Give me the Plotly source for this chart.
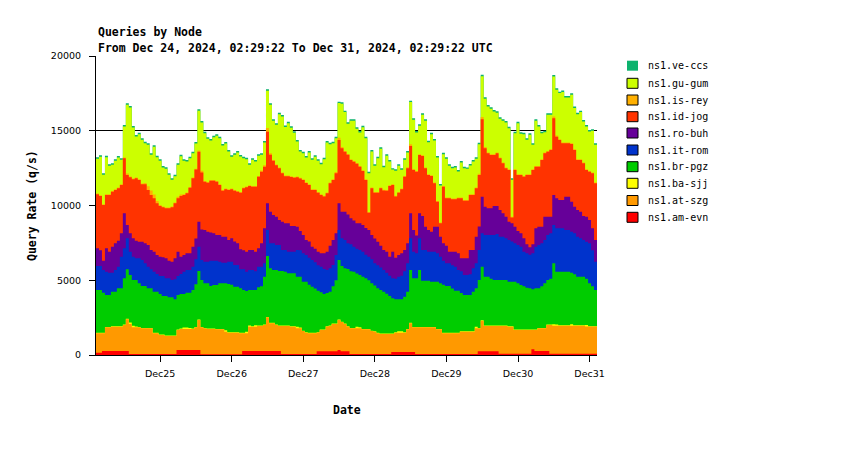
import plotly.graph_objects as go
import pandas as pd

# ---------------- data (hourly bins) ----------------
start = "2024-12-24 02:29:22"
end = "2024-12-31 02:29:22"
tick_days = ["2024-12-25", "2024-12-26", "2024-12-27", "2024-12-28",
             "2024-12-29", "2024-12-30", "2024-12-31"]
y_ticks = [0, 5000, 10000, 15000, 20000]

series_names = ["ns1.ve-ccs", "ns1.gu-gum", "ns1.is-rey", "ns1.id-jog", "ns1.ro-buh",
                "ns1.it-rom", "ns1.br-pgz", "ns1.ba-sjj", "ns1.at-szg", "ns1.am-evn"]

# stacked level (top edge) of whole stack, i.e. top of ns1.ve-ccs
top_total = [
    13224, 13358, 12150, 13335, 12756, 12822, 13090, 13313, 13157, 15387, 16837, 16658,
    15320, 14718, 14874, 14495, 14272, 14160, 13492, 14027, 13335, 13090, 12644, 12555,
    12153, 11819, 12064, 12822, 13400, 13090, 13046, 13268, 13603, 14250, 16435, 15654,
    14940, 14562, 14450, 14673, 14762, 14606, 14117, 14250, 13714, 13358, 13492, 13648,
    13380, 13268, 13201, 12822, 13157, 13046, 13425, 13492, 14317, 17773, 16836, 15766,
    15498, 16212, 16056, 15350, 15610, 15300, 14963, 14384, 13714, 13603, 13313, 13648,
    13157, 13358, 13090, 12867, 13201, 14317, 14205, 14272, 14606, 16948, 16903, 16346,
    15565, 15766, 15766, 15231, 14985, 15342, 14606, 12265, 13714, 12756, 13268, 13893,
    12666, 13425, 13046, 12500, 12420, 12756, 12488, 13157, 13648, 17015, 15833, 14985,
    15431, 16167, 15766, 14339, 14874, 14450, 13313, 11440, 13536, 13224, 12756, 12600,
    12644, 12376, 12978, 12600, 12550, 12778, 13046, 13224, 14205, 18740, 17238, 16725,
    16569, 16390, 16300, 15900, 15766, 15654, 15275, 11819, 14941, 15610, 14900, 14874,
    14495, 14830, 14160, 15766, 15387, 14941, 15008, 16168, 16168, 18732, 17840, 17617,
    17684, 17327, 17327, 17506, 16614, 16212, 16346, 15721, 15387, 15052, 15097, 14160,
]

# stacked level: top of ns1.id-jog
top_id_jog = [
    10749, 10637, 10035, 10704, 10704, 10927, 11038, 11150, 11373, 13157, 12042, 11886,
    11752, 11819, 11708, 11418, 11418, 11038, 10704, 10481, 10147, 9968, 9879, 9812,
    9812, 9879, 10147, 10481, 10637, 10704, 10816, 11195, 11819, 12400, 13600, 12200,
    11596, 11529, 11663, 11663, 11596, 11373, 10994, 11083, 11038, 11083, 10994, 10927,
    10860, 11150, 11217, 11306, 11262, 11262, 11931, 12265, 12600, 14941, 13400, 13000,
    12700, 12500, 12150, 11950, 11950, 11900, 11850, 11886, 11800, 11708, 11500, 11373,
    11038, 11038, 10860, 10704, 10600, 10816, 11485, 11708, 12154, 14384, 13826, 13603,
    13400, 13045, 12934, 12800, 12600, 12300, 11708, 9522, 11150, 10860, 10860, 11150,
    11000, 10994, 11300, 11373, 10600, 10860, 11083, 11931, 12500, 13982, 12377, 12265,
    13380, 13313, 12488, 12042, 11975, 11485, 10258, 8809, 11262, 10481, 10481, 10414,
    10414, 10481, 10481, 10325, 10325, 10704, 10704, 11150, 12042, 15766, 13826, 13491,
    13380, 13380, 13491, 13157, 12822, 12488, 12377, 9200, 12377, 12042, 12042, 11931,
    12042, 12042, 12377, 12600, 12600, 13045, 13491, 13600, 13715, 15833, 14607, 14384,
    14161, 14161, 14161, 14116, 13715, 13045, 13045, 12822, 12378, 12265, 12154, 11485,
]

# stacked level: top of ns1.ro-buh
top_ro_buh = [
    7136, 7000, 6311, 7136, 6913, 7248, 7470, 7649, 8140, 9478, 8697, 8140,
    7805, 7649, 7582, 7582, 7470, 7359, 7024, 6913, 6690, 6578, 6534, 6467,
    6311, 6244, 6467, 6913, 6578, 6690, 6801, 6801, 7248, 7800, 8920, 8400,
    8363, 8251, 8200, 8140, 8028, 8028, 7917, 7917, 7694, 7805, 7600, 7470,
    7069, 7000, 6913, 7024, 7024, 6913, 7136, 7470, 8474, 10148, 9590, 9366,
    9255, 9032, 8920, 8809, 8809, 8630, 8630, 8586, 8300, 8028, 7694, 7600,
    7247, 7100, 6913, 6802, 6802, 6913, 7300, 7700, 8140, 10148, 9589, 9589,
    9400, 9143, 9000, 8809, 8809, 8697, 8500, 8363, 8028, 7800, 7582, 7300,
    7024, 6900, 6579, 6913, 6500, 6690, 6800, 7024, 7470, 9478, 8363, 8000,
    9478, 9300, 8586, 8363, 8251, 8586, 8586, 7917, 7470, 7300, 6913, 6913,
    6913, 6800, 6467, 6467, 6467, 7024, 7024, 7917, 8600, 10593, 9924, 9812,
    9812, 9968, 9968, 9700, 9478, 9255, 8920, 8809, 8586, 8300, 8140, 7805,
    7400, 7200, 7400, 8474, 8586, 8586, 9255, 9255, 9255, 10704, 10481, 10370,
    10370, 10593, 10593, 10258, 9924, 9700, 9589, 9300, 9255, 9032, 8474, 7694,
]

# stacked level: top of ns1.it-rom
top_it_rom = [
    5954, 5954, 5687, 5575, 5508, 5508, 5687, 5910, 6579, 7136, 7805, 6913,
    6579, 6467, 6467, 6356, 6133, 5910, 5731, 5575, 5419, 5285, 5285, 5129,
    5129, 5018, 5062, 5285, 5419, 5575, 5687, 5687, 5910, 6400, 7248, 6356,
    6244, 6244, 6311, 6311, 6311, 6244, 6177, 6177, 6244, 6244, 6021, 6021,
    5731, 5731, 5575, 5687, 5687, 5600, 5910, 5910, 6133, 8363, 7470, 7470,
    7359, 7359, 7024, 7024, 6913, 6913, 6913, 7024, 7000, 6800, 6690, 6500,
    6356, 6200, 6000, 5910, 5750, 5687, 5800, 6021, 6690, 8363, 7805, 7700,
    7470, 7400, 7247, 7100, 7024, 6900, 6700, 6579, 6400, 6133, 6000, 5850,
    5687, 5500, 5300, 5129, 5100, 5241, 5300, 5600, 6133, 7805, 6913, 6800,
    7805, 7024, 7024, 6913, 6913, 6913, 6800, 6579, 6300, 6133, 6133, 6000,
    5900, 5687, 5600, 5352, 5352, 5400, 5800, 6133, 7024, 8140, 8028, 8028,
    8028, 8028, 8100, 7917, 7917, 7805, 7694, 7600, 7470, 7359, 7248, 6900,
    6800, 6700, 6800, 7248, 7359, 7470, 7694, 8028, 8140, 8697, 8474, 8474,
    8474, 8363, 8363, 8251, 8140, 7917, 7805, 7694, 7582, 7470, 7000, 6244,
]

# stacked level: top of ns1.br-pgz
top_br_pgz = [
    4349, 4349, 4170, 4014, 4014, 4237, 4237, 4460, 4460, 5129, 5731, 5352,
    5018, 5018, 4795, 4616, 4616, 4460, 4460, 4237, 4237, 4081, 3947, 3947,
    3858, 3858, 3724, 4014, 4081, 4081, 4170, 4170, 4349, 4728, 5620, 5018,
    4795, 4795, 4616, 4683, 4683, 4795, 4795, 4795, 4750, 4700, 4572, 4572,
    4460, 4350, 4282, 4349, 4349, 4349, 4527, 4600, 5241, 6623, 5798, 5687,
    5687, 5620, 5620, 5575, 5464, 5464, 5464, 5241, 5241, 4906, 4906, 4700,
    4572, 4450, 4304, 4200, 4081, 4150, 4237, 4600, 5000, 6356, 5954, 5798,
    5750, 5600, 5575, 5450, 5352, 5241, 5129, 5000, 4795, 4650, 4460, 4350,
    4237, 4100, 3950, 3791, 3724, 3724, 3724, 3902, 4237, 5687, 5129, 5129,
    5687, 4973, 4973, 4973, 4906, 4906, 4906, 4795, 4700, 4616, 4616, 4450,
    4304, 4304, 4150, 4014, 4014, 4014, 4237, 4460, 5018, 5910, 5241, 5241,
    5100, 5018, 5018, 5018, 5018, 5018, 4906, 4906, 4906, 4800, 4683, 4600,
    4500, 4460, 4400, 4460, 4460, 4600, 4800, 5018, 5100, 6133, 5575, 5575,
    5575, 5575, 5575, 5500, 5400, 5241, 5241, 5241, 5100, 4800, 4600, 4349,
]

# stacked level: top of ns1.at-szg
top_at_szg = [
    1450, 1450, 1450, 1851, 1851, 1896, 1896, 1896, 1896, 2007, 2386, 2074,
    1851, 1851, 1851, 1784, 1784, 1784, 1784, 1450, 1450, 1338, 1338, 1271,
    1271, 1271, 1271, 1673, 1740, 1740, 1740, 1740, 1740, 1851, 2342, 1851,
    1784, 1740, 1740, 1740, 1717, 1717, 1717, 1561, 1494, 1494, 1494, 1494,
    1450, 1450, 1450, 1896, 1896, 1896, 1940, 1940, 2007, 2520, 2119, 2119,
    2007, 1940, 1940, 1940, 1940, 1896, 1896, 1784, 1784, 1600, 1494, 1450,
    1450, 1450, 1500, 1673, 1673, 1900, 1940, 2074, 2074, 2342, 2200, 2074,
    1900, 1784, 1784, 1784, 1784, 1717, 1717, 1717, 1600, 1561, 1450, 1405,
    1405, 1405, 1405, 1405, 1494, 1494, 1494, 1494, 1717, 2119, 1851, 1851,
    1851, 1851, 1851, 1851, 1851, 1851, 1717, 1717, 1450, 1450, 1450, 1450,
    1450, 1450, 1561, 1561, 1561, 1561, 1561, 1784, 1784, 2297, 1940, 1940,
    1940, 1940, 1940, 1940, 1940, 1940, 1895, 1895, 1673, 1673, 1673, 1673,
    1673, 1673, 1673, 1673, 1784, 1784, 1784, 2007, 2007, 1962, 1962, 1962,
    1962, 1962, 1962, 1962, 1962, 1962, 1962, 1962, 1900, 1900, 1900, 1900,
]

# ns1.am-evn (bottom series, value = its level)
am_evn = [
    156, 156, 268, 268, 268, 268, 268, 268, 268, 268, 268, 60,
    60, 60, 60, 60, 60, 60, 60, 60, 60, 60, 60, 60,
    60, 60, 60, 334, 334, 334, 334, 334, 334, 334, 334, 50,
    50, 50, 50, 50, 50, 50, 50, 50, 50, 50, 50, 50,
    50, 268, 268, 268, 268, 268, 268, 268, 268, 268, 268, 268,
    268, 268, 60, 60, 60, 60, 60, 60, 60, 60, 60, 60,
    60, 60, 250, 250, 250, 250, 250, 250, 250, 334, 250, 250,
    250, 60, 60, 60, 60, 60, 60, 60, 60, 60, 60, 60,
    60, 60, 60, 200, 200, 200, 200, 200, 200, 200, 200, 70,
    70, 70, 70, 70, 70, 70, 70, 70, 70, 70, 70, 70,
    70, 70, 70, 70, 70, 70, 70, 70, 250, 250, 250, 250,
    250, 250, 250, 80, 80, 80, 80, 80, 80, 80, 80, 80,
    80, 80, 379, 268, 268, 268, 268, 268, 80, 80, 80, 80,
    80, 80, 80, 80, 80, 80, 80, 80, 80, 80, 80, 80,
]

# thin slivers (values)
ba_sjj = [
    30, 30, 30, 30, 30, 30, 30, 30, 30, 30, 40, 100,
    100, 60, 30, 30, 30, 30, 30, 30, 30, 30, 30, 30,
    30, 30, 30, 30, 40, 100, 100, 60, 30, 30, 30, 30,
    30, 30, 30, 30, 30, 30, 30, 100, 30, 30, 30, 30,
    30, 30, 100, 80, 30, 100, 30, 30, 30, 30, 30, 30,
    30, 30, 30, 30, 30, 30, 30, 100, 60, 30, 30, 30,
    30, 30, 30, 30, 30, 30, 30, 30, 30, 30, 30, 30,
    30, 30, 30, 100, 80, 30, 30, 30, 30, 30, 30, 30,
    30, 30, 30, 30, 30, 100, 100, 30, 30, 30, 30, 30,
    30, 30, 30, 30, 30, 30, 30, 30, 30, 30, 30, 30,
    30, 30, 30, 30, 30, 30, 30, 100, 30, 30, 30, 30,
    30, 30, 30, 30, 30, 30, 30, 30, 30, 30, 30, 30,
    30, 30, 30, 30, 30, 30, 30, 30, 30, 100, 80, 30,
    30, 30, 30, 100, 30, 30, 30, 30, 100, 30, 30, 30,
]

is_rey = [
    50, 50, 50, 50, 50, 50, 50, 50, 50, 60, 100, 60,
    50, 50, 50, 50, 80, 250, 300, 250, 150, 60, 50, 50,
    50, 50, 50, 100, 100, 50, 50, 50, 50, 60, 80, 120,
    50, 50, 50, 50, 50, 50, 50, 50, 50, 50, 50, 50,
    50, 50, 50, 50, 50, 50, 50, 80, 100, 250, 100, 50,
    50, 50, 50, 50, 50, 50, 50, 50, 50, 50, 50, 50,
    50, 50, 50, 50, 50, 50, 50, 50, 80, 150, 80, 50,
    50, 50, 50, 50, 50, 50, 50, 50, 50, 50, 50, 50,
    50, 50, 50, 50, 50, 50, 50, 50, 60, 120, 60, 50,
    50, 50, 50, 50, 50, 50, 50, 50, 50, 50, 50, 50,
    50, 50, 50, 50, 50, 50, 50, 50, 80, 150, 80, 50,
    50, 50, 50, 50, 50, 50, 50, 50, 50, 50, 50, 50,
    50, 50, 50, 50, 50, 50, 50, 50, 60, 120, 80, 50,
    50, 50, 50, 50, 50, 50, 50, 50, 50, 50, 50, 50,
]

ve_ccs = [
    100, 100, 100, 100, 100, 100, 100, 100, 100, 100, 100, 100,
    100, 100, 100, 100, 100, 100, 100, 100, 100, 100, 100, 100,
    100, 100, 100, 100, 100, 100, 100, 100, 100, 100, 100, 100,
    100, 100, 100, 100, 100, 100, 100, 100, 100, 100, 100, 100,
    100, 100, 100, 100, 100, 100, 100, 100, 100, 100, 100, 100,
    100, 100, 100, 100, 100, 100, 100, 100, 100, 100, 100, 100,
    100, 100, 100, 100, 100, 100, 100, 100, 100, 100, 100, 100,
    100, 100, 100, 100, 100, 100, 100, 100, 100, 100, 100, 100,
    100, 100, 100, 100, 100, 100, 100, 100, 100, 100, 100, 100,
    100, 100, 100, 100, 100, 100, 100, 100, 100, 100, 100, 100,
    100, 100, 100, 100, 100, 100, 100, 100, 100, 100, 100, 100,
    100, 100, 100, 100, 100, 100, 100, 100, 100, 100, 100, 100,
    100, 100, 100, 100, 100, 100, 100, 100, 100, 100, 100, 100,
    100, 100, 100, 100, 100, 100, 100, 100, 100, 100, 100, 100,
]

colors = {
    "ns1.ve-ccs": "#0db36e", "ns1.gu-gum": "#ccff00", "ns1.is-rey": "#ffb000",
    "ns1.id-jog": "#ff3300", "ns1.ro-buh": "#660099", "ns1.it-rom": "#0033cc",
    "ns1.br-pgz": "#00cc00", "ns1.ba-sjj": "#ffff00", "ns1.at-szg": "#ff9900",
    "ns1.am-evn": "#ff0000",
}

N = len(top_total)
for arr in (top_id_jog, top_ro_buh, top_it_rom, top_br_pgz, top_at_szg,
            am_evn, ba_sjj, is_rey, ve_ccs):
    assert len(arr) == N, len(arr)

edges = pd.date_range(start, periods=N + 1, freq="h")

# upper edge of every band (top of stack first)
levels = {
    "ns1.ve-ccs": top_total,
    "ns1.gu-gum": [t - v for t, v in zip(top_total, ve_ccs)],
    "ns1.is-rey": [r + s for r, s in zip(top_id_jog, is_rey)],
    "ns1.id-jog": top_id_jog,
    "ns1.ro-buh": top_ro_buh,
    "ns1.it-rom": top_it_rom,
    "ns1.br-pgz": top_br_pgz,
    "ns1.ba-sjj": [a + b for a, b in zip(top_at_szg, ba_sjj)],
    "ns1.at-szg": top_at_szg,
    "ns1.am-evn": am_evn,
}

fig = go.Figure()
for name in series_names:  # painted top-down, each band overpaints lower part
    y = list(levels[name]) + [levels[name][-1]]
    fig.add_trace(go.Scatter(
        x=edges, y=y, mode="lines", name=name,
        line=dict(width=0, shape="hv", color=colors[name]),
        fill="tozeroy", fillcolor=colors[name], hoverinfo="skip",
    ))

W, H = 850, 450
L, R, T, B = 96, 253, 56, 95
pw, ph = W - L - R, H - T - B


def px_x(px):
    return (px - L) / pw


def px_y(py):
    return (H - B - py) / ph


fig.update_layout(
    width=W, height=H,
    margin=dict(l=L, r=R, t=T, b=B),
    plot_bgcolor="white", paper_bgcolor="white",
    showlegend=False,
    font=dict(family="DejaVu Sans", size=9, color="black"),
)
fig.update_xaxes(
    type="date", range=[start, end],
    tickvals=tick_days, tickformat="%b%d",
    showgrid=False, zeroline=False,
    showline=True, linecolor="black", linewidth=1,
    ticks="outside", ticklen=6, tickcolor="black", tickwidth=1,
    ticklabelstandoff=4,
    tickfont=dict(family="DejaVu Sans", size=9.5, color="black"),
)
fig.update_yaxes(
    range=[0, 20000], tickvals=y_ticks, tickformat="d",
    showgrid=True, gridcolor="black", gridwidth=1, zeroline=False,
    showline=True, linecolor="black", linewidth=1,
    ticks="outside", ticklen=6, tickcolor="black", tickwidth=1,
    ticklabelstandoff=6,
    tickfont=dict(family="DejaVu Sans", size=9.5, color="black"),
)

mono_b = dict(family="DejaVu Sans Mono", size=11.5, color="black", weight="bold")
ann = [
    dict(text="Queries by Node", x=0, y=px_y(32), xanchor="left", yanchor="middle", font=mono_b),
    dict(text="From Dec 24, 2024, 02:29:22 To Dec 31, 2024, 02:29:22 UTC",
         x=0, y=px_y(48), xanchor="left", yanchor="middle", font=mono_b),
    dict(text="Query Rate (q/s)", x=px_x(32), y=px_y(206), textangle=-90,
         xanchor="center", yanchor="middle", font=mono_b),
    dict(text="Date", x=px_x(347), y=px_y(410), xanchor="center", yanchor="middle", font=mono_b),
]
shapes = []
row_y = [65.7, 83.3, 100, 116.7, 133, 150, 166.7, 183.3, 200.5, 217.3]
for name, cy in zip(series_names, row_y):
    shapes.append(dict(
        type="rect", xref="paper", yref="paper",
        x0=px_x(627), x1=px_x(638), y0=px_y(cy + 5), y1=px_y(cy - 5),
        fillcolor=colors[name],
        line=dict(color="black", width=1 if name != "ns1.ve-ccs" else 0),
    ))
    ann.append(dict(text=name, x=px_x(646), y=px_y(cy), xanchor="left", yanchor="middle",
                    font=dict(family="DejaVu Sans Mono", size=10, color="black")))
for a in ann:
    a.update(xref="paper", yref="paper", showarrow=False)
fig.update_layout(annotations=ann, shapes=shapes)

fig.write_html("out.html")
